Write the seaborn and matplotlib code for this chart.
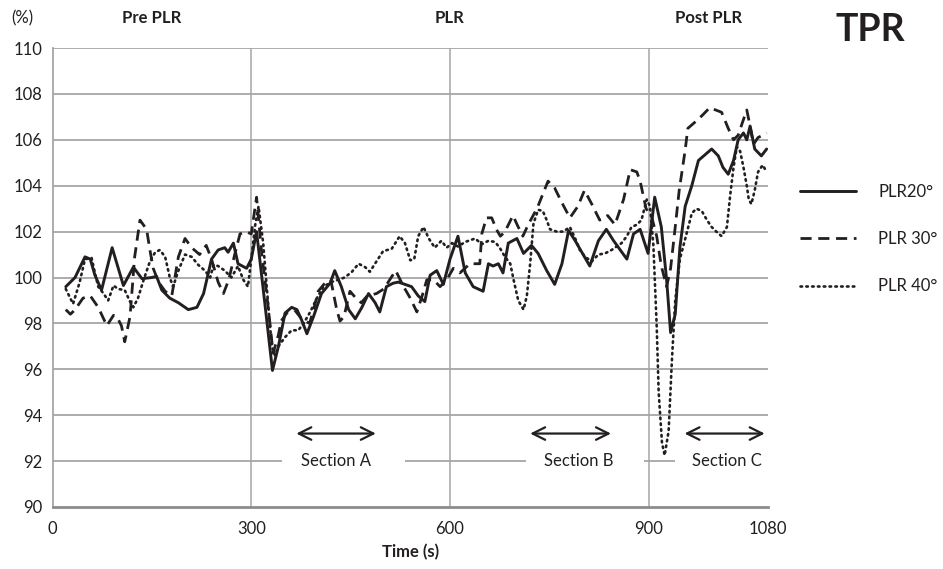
"""TPR during passive leg raising — PLR 20/30/40 degrees."""
import numpy as np
import pandas as pd
import matplotlib
matplotlib.use("Agg")
import matplotlib.pyplot as plt
import seaborn as sns

# PLR 20 (solid)
t_plr20 = [20, 34, 49, 57, 64, 74, 90, 107, 122, 135, 150, 157, 165, 177, 190, 205, 218, 228,
           240, 250, 260, 265, 273, 280, 293, 300, 308, 320, 332, 341, 351, 361, 369, 376, 384,
           394, 406, 419, 426, 436, 447, 457, 467, 477, 487, 494, 504, 514, 522, 532, 542, 552,
           562, 570, 580, 590, 600, 612, 623, 635, 650, 658, 665, 673, 680, 688, 701, 711, 723,
           733, 746, 758, 769, 779, 789, 801, 811, 824, 836, 847, 857, 867, 877, 887, 899, 909,
           919, 927, 933, 940, 947, 955, 965, 975, 985, 995, 1005, 1012, 1020, 1028, 1035, 1043,
           1048, 1053, 1060, 1070, 1078]
v_plr20 = [99.6, 100.0, 100.9, 100.8, 100.1, 99.45, 101.3, 99.65, 100.45, 99.95, 100.0, 100.05,
           99.45, 99.1, 98.9, 98.6, 98.7, 99.3, 100.8, 101.2, 101.3, 101.1, 101.5, 100.6, 100.4,
           100.8, 102.0, 99.0, 95.95, 97.0, 98.45, 98.7, 98.6, 98.15, 97.55, 98.3, 99.3, 99.75,
           100.3, 99.6, 98.6, 98.2, 98.7, 99.3, 98.9, 98.5, 99.6, 99.75, 99.8, 99.7, 99.6, 99.2,
           98.95, 100.1, 100.3, 99.7, 100.8, 101.8, 100.2, 99.6, 99.4, 100.6, 100.5, 100.6, 100.2,
           101.5, 101.7, 101.05, 101.4, 101.05, 100.3, 99.7, 100.6, 102.05, 101.6, 101.0, 100.5,
           101.6, 102.1, 101.6, 101.2, 100.8, 101.9, 102.1, 101.05, 103.5, 102.2, 99.9, 97.6,
           98.4, 101.3, 103.1, 104.0, 105.1, 105.35, 105.6, 105.3, 104.8, 104.5, 105.1, 106.0,
           106.3, 106.0, 106.6, 105.6, 105.3, 105.6]

# PLR 30 (dashed)
t_plr30 = [20, 27, 34, 46, 57, 69, 82, 92, 97, 104, 109, 117, 124, 132, 142, 147, 152, 160, 170,
           180, 190, 200, 210, 222, 232, 240, 250, 258, 266, 275, 283, 292, 300, 308, 316, 326,
           333, 341, 345, 355, 365, 376, 388, 395, 401, 411, 420, 429, 434, 440, 449, 458, 466,
           475, 489, 500, 518, 530, 540, 550, 558, 565, 575, 585, 595, 605, 615, 630, 645, 648,
           655, 663, 670, 676, 683, 695, 703, 710, 718, 732, 748, 758, 770, 781, 793, 803, 814,
           826, 838, 849, 862, 872, 882, 887, 896, 904, 912, 919, 927, 933, 940, 946, 955, 959,
           973, 982, 992, 1010, 1020, 1028, 1035, 1042, 1048, 1053, 1058, 1065, 1072, 1078]
v_plr30 = [98.6, 98.4, 98.6, 99.1, 99.2, 98.7, 97.9, 98.35, 98.3, 97.9, 97.2, 98.3, 100.9, 102.5,
           102.1, 101.2, 100.4, 99.8, 99.4, 99.2, 100.9, 101.7, 101.3, 101.0, 101.4, 100.8, 99.8,
           99.3, 99.9, 101.0, 101.9, 102.0, 101.9, 103.5, 101.0, 98.6, 96.7, 97.5, 98.1, 98.5,
           98.6, 98.2, 98.0, 98.7, 99.4, 99.75, 99.9, 98.6, 98.1, 98.3, 99.4, 99.1, 98.9, 99.2,
           99.3, 99.5, 100.3, 99.6, 99.1, 98.5, 99.2, 99.9, 99.9, 99.6, 99.9, 100.4, 100.2, 100.6,
           100.6, 101.9, 102.6, 102.6, 102.1, 101.8, 102.0, 102.7, 102.2, 101.8, 102.3, 103.05,
           104.2, 103.9, 103.2, 102.6, 103.1, 103.8, 103.2, 102.5, 102.7, 102.3, 103.4, 104.7,
           104.6, 104.2, 103.0, 102.7, 101.8, 100.5, 99.6, 100.4, 102.2, 103.8, 105.55, 106.5,
           106.85, 107.1, 107.4, 107.2, 106.5, 106.0, 106.2, 106.8, 107.3, 106.6, 105.8, 106.1,
           106.2, 106.3]

# PLR 40 (dotted)
t_plr40 = [20, 31, 41, 49, 59, 64, 69, 77, 84, 92, 99, 109, 117, 122, 129, 137, 147, 155, 162,
           170, 177, 182, 190, 200, 210, 220, 230, 238, 243, 250, 260, 270, 280, 288, 295, 300,
           306, 311, 318, 325, 331, 336, 341, 351, 361, 371, 379, 389, 399, 409, 421, 431, 441,
           452, 462, 472, 479, 489, 499, 512, 524, 532, 540, 546, 552, 560, 568, 577, 587, 595,
           603, 612, 623, 638, 648, 658, 668, 675, 683, 691, 696, 703, 711, 716, 721, 726, 733,
           740, 746, 751, 761, 771, 781, 789, 796, 804, 814, 824, 834, 844, 859, 867, 874, 882,
           889, 897, 902, 907, 912, 915, 920, 924, 930, 935, 940, 947, 957, 965, 972, 980, 988,
           995, 1002, 1010, 1018, 1023, 1028, 1033, 1038, 1043, 1048, 1051, 1055, 1060, 1065,
           1072, 1078]
v_plr40 = [99.5, 98.85, 99.8, 100.8, 100.85, 100.2, 99.6, 99.3, 99.0, 99.65, 99.5, 99.45, 98.95,
           98.7, 99.1, 99.85, 100.7, 101.1, 101.2, 100.9, 100.0, 99.6, 100.3, 101.0, 100.9,
           100.55, 100.3, 100.0, 100.55, 100.5, 100.3, 100.0, 100.5, 99.9, 99.6, 100.8, 102.3,
           103.1, 101.5, 99.0, 97.0, 96.6, 97.0, 97.4, 97.7, 97.7, 98.0, 98.5, 99.1, 99.6, 99.8,
           99.9, 100.0, 100.25, 100.6, 100.45, 100.25, 100.7, 101.15, 101.25, 101.8, 101.5,
           100.75, 100.8, 101.8, 102.2, 101.7, 101.3, 101.6, 101.3, 101.5, 101.35, 101.55, 101.7,
           101.45, 101.6, 101.55, 101.3, 100.9, 100.6, 99.9, 99.0, 98.6, 99.2, 100.6, 102.35,
           102.95, 102.9, 102.5, 102.1, 102.0, 102.0, 102.2, 101.7, 101.2, 100.9, 100.7, 101.0,
           101.05, 101.2, 101.5, 101.8, 102.2, 102.3, 102.5, 103.4, 103.1, 101.4, 97.9, 95.0,
           92.8, 92.25, 93.3, 96.4, 99.0, 100.8, 101.9, 102.8, 103.0, 102.9, 102.5, 102.2, 102.0,
           101.8, 102.2, 103.6, 104.8, 105.7, 105.5, 104.8, 104.0, 103.4, 103.2, 103.8, 104.6,
           104.9, 104.6]

x_ticks = [0, 300, 600, 900, 1080]
y_ticks = list(range(90, 111, 2))
phases = ["Pre PLR", "PLR", "Post PLR"]
phase_x = [150, 600, 990]
sections = ["Section A", "Section B", "Section C"]
section_x = [428, 794, 1018]
arrow_spans = [(368, 488), (721, 843), (954, 1075)]
gap_spans = [(347, 532), (714, 893), (939, 1085)]

sns.set_style("white")
plt.rcParams["font.family"] = ["Lato", "DejaVu Sans"]

INK = "#231f20"
GRID = "#a6a6a6"

fig = plt.figure(figsize=(9.43, 5.69), dpi=100)
ax = fig.add_axes([0.0557, 0.1090, 0.7587, 0.8066])

series = [
    ("PLR20°", t_plr20, v_plr20, dict(linestyle="-", linewidth=2.1)),
    ("PLR 30°", t_plr30, v_plr30, dict(linestyle=(0, (4.0, 2.4)), linewidth=2.0)),
    ("PLR 40°", t_plr40, v_plr40, dict(linestyle=(0, (0.6, 1.6)), linewidth=1.9,
                                       dash_capstyle="round")),
]
for label, t, v, style in series:
    df = pd.DataFrame({"t": t, "v": v})
    sns.lineplot(data=df, x="t", y="v", ax=ax, color=INK, label=label,
                 estimator=None, sort=True, zorder=3, **style)

ax.set_xlim(0, 1080)
ax.set_ylim(90, 110)
ax.set_xticks(x_ticks)
ax.set_yticks(y_ticks)
ax.tick_params(axis="both", labelsize=12, colors=GRID, labelcolor=INK,
               length=4, width=1, direction="out")
ax.tick_params(axis="x", pad=6)

# grid: horizontal every 2, vertical at phase boundaries
for y in y_ticks[1:]:
    ax.axhline(y, color=GRID, linewidth=1.3, zorder=0.5)
for x in x_ticks[1:-1]:
    ax.axvline(x, color=GRID, linewidth=1.1, zorder=0.5)

for side in ["top", "right"]:
    ax.spines[side].set_visible(False)
ax.spines["left"].set_color(GRID)
ax.spines["left"].set_linewidth(1.3)
ax.spines["bottom"].set_color("#8c8c8c")
ax.spines["bottom"].set_linewidth(2.0)

ax.set_xlabel("Time (s)", fontsize=12, fontweight="bold", color=INK, labelpad=5)
ax.set_ylabel("")

# white boxes behind the section labels break the 92 gridline
for a, b in gap_spans:
    ax.plot([a, b], [92, 92], color="white", linewidth=4, zorder=1, solid_capstyle="butt")
for name, x in zip(sections, section_x):
    ax.text(x, 92, name, ha="center", va="center", fontsize=12, color=INK, zorder=1.5)
for a, b in arrow_spans:
    ax.annotate("", xy=(a, 93.2), xytext=(b, 93.2),
                arrowprops=dict(arrowstyle="<->,head_length=0.9,head_width=0.45",
                                color=INK, linewidth=1.6, shrinkA=0, shrinkB=0))

for name, x in zip(phases, phase_x):
    ax.text(x, 1.065, name, transform=ax.get_xaxis_transform(), ha="center", va="center",
            fontsize=12, fontweight="bold", color=INK)
ax.text(-0.0426, 1.065, "(%)", transform=ax.transAxes, ha="center", va="center",
        fontsize=12, color=INK)
ax.text(1.143, 1.039, "TPR", transform=ax.transAxes, ha="center", va="center",
        fontsize=27, fontweight="bold", color=INK)

leg = ax.legend(loc="upper left", bbox_to_anchor=(1.035, 0.718), frameon=False,
                fontsize=12, handlelength=3.4, handletextpad=1.3, labelspacing=1.87,
                borderaxespad=0)
for txt in leg.get_texts():
    txt.set_color(INK)

fig.savefig("out.png", dpi=100, facecolor="white")
